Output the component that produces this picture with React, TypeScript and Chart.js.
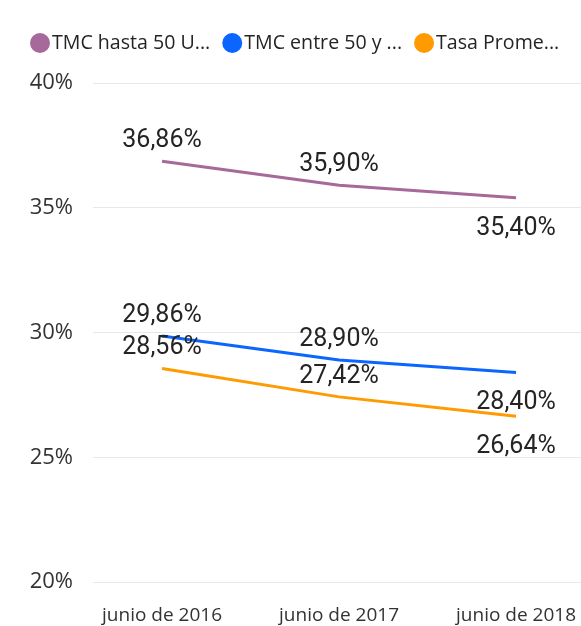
import React, { useEffect, useRef } from "react";
import { Chart, registerables } from "chart.js";

Chart.register(...registerables);

// ---- data ----
const categories = ["junio de 2016", "junio de 2017", "junio de 2018"];
const seriesNames = ["TMC hasta 50 U...", "TMC entre 50 y ...", "Tasa Prome..."];
const tmcHasta50 = [36.86, 35.9, 35.4];
const tmcEntre50 = [29.86, 28.9, 28.4];
const tasaPromedio = [28.56, 27.42, 26.64];
const seriesValues = [tmcHasta50, tmcEntre50, tasaPromedio];
const seriesColors = ["#A66999", "#0A66FF", "#FF9A00"];
const labelPlacement = ["above", "above", "below"];
const yMin = 20;
const yMax = 40;
const yStep = 5;

const W = 581;
const H = 626;

const fmt = (v: number) => v.toFixed(2).replace(".", ",") + "%";

const legendPlugin = {
  id: "customLegend",
  afterDraw(chart: any) {
    const ctx = chart.ctx;
    ctx.save();
    ctx.font = '19.6px "Open Sans"';
    ctx.textBaseline = "alphabetic";
    ctx.textAlign = "left";
    let x = 30;
    const cy = 43;
    chart.data.datasets.forEach((ds: any) => {
      ctx.fillStyle = ds.borderColor;
      ctx.beginPath();
      ctx.arc(x + 10, cy, 10, 0, Math.PI * 2);
      ctx.fill();
      ctx.fillStyle = "#252423";
      const tx = x + 22;
      ctx.fillText(ds.label, tx, 49);
      x = tx + ctx.measureText(ds.label).width + 12;
    });
    ctx.restore();
  },
};

const dataLabelPlugin = {
  id: "pointLabels",
  afterDatasetsDraw(chart: any) {
    const ctx = chart.ctx;
    ctx.save();
    ctx.font = '25px "Roboto"';
    ctx.fillStyle = "#252423";
    ctx.textAlign = "center";
    ctx.textBaseline = "alphabetic";
    chart.data.datasets.forEach((ds: any, i: number) => {
      const meta = chart.getDatasetMeta(i);
      meta.data.forEach((pt: any, j: number) => {
        const v = ds.data[j].y;
        const y = labelPlacement[j] === "above" ? pt.y - 14 : pt.y + 37;
        ctx.fillText(fmt(v), pt.x, y);
      });
    });
    ctx.restore();
  },
};

export default function App() {
  const ref = useRef<HTMLCanvasElement | null>(null);

  useEffect(() => {
    if (!ref.current) return;
    const chart = new Chart(ref.current, {
      type: "line",
      data: {
        datasets: seriesValues.map((vals, i) => ({
          label: seriesNames[i],
          data: vals.map((v, j) => ({ x: j, y: v })),
          borderColor: seriesColors[i],
          backgroundColor: seriesColors[i],
          borderWidth: 3,
          pointRadius: 0,
          tension: 0,
          fill: false,
        })),
      },
      options: {
        responsive: false,
        animation: false,
        devicePixelRatio: 1,
        layout: { padding: { top: 83, left: 0, right: 0, bottom: 0 } },
        plugins: {
          legend: { display: false },
          tooltip: { enabled: false },
        },
        scales: {
          x: {
            type: "linear",
            min: -0.39,
            max: 2.367,
            grid: { display: false },
            border: { display: false },
            afterBuildTicks: (scale: any) => {
              scale.ticks = categories.map((_, i) => ({ value: i }));
            },
            afterFit: (scale: any) => {
              scale.height = 44;
              scale.paddingLeft = 0;
              scale.paddingRight = 0;
            },
            ticks: {
              autoSkip: false,
              maxRotation: 0,
              minRotation: 0,
              padding: 14,
              color: "#333333",
              font: { family: "Open Sans", size: 19 },
              callback: (v: any) => categories[v as number] ?? "",
            },
          },
          y: {
            min: yMin,
            max: yMax,
            grid: { color: "#e8e8e8", lineWidth: 1, drawTicks: false },
            border: { display: false },
            afterFit: (scale: any) => {
              scale.width = 93;
            },
            ticks: {
              stepSize: yStep,
              padding: 20,
              color: "#333333",
              font: { family: "Open Sans", size: 22 },
              callback: (v: any) => v + "%",
            },
          },
        },
      },
      plugins: [legendPlugin, dataLabelPlugin],
    } as any);
    return () => chart.destroy();
  }, []);

  return (
    <div style={{ position: "absolute", left: 0, top: 0, width: W, height: H, background: "#fff" }}>
      <canvas ref={ref} width={W} height={H} style={{ display: "block" }} />
    </div>
  );
}
